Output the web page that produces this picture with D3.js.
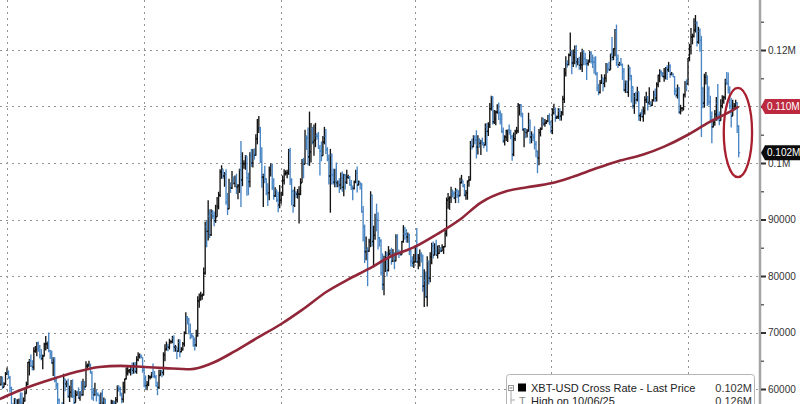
<!DOCTYPE html>
<html>
<head>
<meta charset="utf-8">
<script src="https://cdnjs.cloudflare.com/ajax/libs/d3/7.8.5/d3.min.js"></script>
<style>
	html, body { margin: 0; padding: 0; background: #fff; }
	svg { display: block; font-family: "Liberation Sans", Arial, sans-serif; }
</style>
</head>
<body>
<div id="chart"></div>
<script>
// XBT-USD daily bars, thousands of USD, one value per day from firstDate
var firstDate = "2024-06-26";
var firstOpen = 61.8;

var dailyClose = [
	60.8, 61.6, 60.3, 60.9, 62.7,
	62.8, 62.0, 60.2, 57.0, 56.6, 58.2, 55.8, 56.7, 57.9, 57.7, 57.3, 57.9, 59.2, 60.8, 64.7, 65.0, 64.1, 63.9, 66.7, 67.1, 68.2, 67.6, 65.9, 65.4, 65.8, 67.9, 68.0, 68.3, 66.8, 66.2, 64.6,
	65.4, 61.5, 60.7, 58.1, 54.0, 56.0, 55.0, 61.7, 60.9, 60.9, 58.7, 59.4, 60.6, 58.7, 57.6, 58.9, 59.5, 58.4, 59.5, 59.0, 61.2, 60.4, 64.1, 64.2, 64.2, 62.8, 59.4, 59.0, 59.4, 59.1, 58.9,
	57.3, 59.1, 57.5, 58.0, 56.2, 53.9, 54.8, 54.9, 57.0, 57.6, 57.3, 58.1, 60.5, 60.0, 59.2, 58.2, 60.3, 61.8, 62.9, 63.2, 63.4, 63.6, 63.3, 64.3, 63.1, 65.2, 65.8, 65.9, 65.6, 63.3,
	60.8, 60.6, 60.8, 62.1, 62.1, 62.8, 62.2, 62.1, 60.6, 60.3, 62.4, 63.2, 62.9, 66.0, 67.0, 67.6, 67.4, 68.4, 68.4, 69.0, 67.4, 67.4, 66.7, 68.2, 66.6, 67.0, 68.0, 69.9, 72.7, 72.3, 70.2,
	69.5, 69.4, 68.7, 67.8, 69.4, 75.6, 75.9, 76.5, 76.7, 80.5, 88.7, 87.9, 90.6, 87.3, 91.1, 90.6, 89.8, 90.5, 92.3, 94.3, 98.4, 98.9, 97.7, 98.0, 93.1, 91.9, 95.9, 95.6, 97.5, 96.4,
	97.2, 95.8, 96.0, 98.8, 97.0, 99.9, 99.9, 101.2, 97.4, 96.7, 101.2, 100.0, 101.5, 101.4, 104.3, 106.1, 106.1, 100.2, 97.5, 97.8, 97.2, 95.1, 94.7, 98.7, 99.4, 95.8, 94.2, 95.2, 93.4, 92.6, 93.4,
	94.4, 96.9, 98.1, 98.2, 98.3, 102.1, 96.9, 95.0, 92.5, 94.7, 94.5, 94.5, 94.5, 96.5, 100.5, 99.8, 104.5, 104.4, 101.1, 102.0, 106.1, 103.7, 104.0, 104.8, 104.7, 102.6, 102.1, 101.3, 103.7, 104.7, 102.4,
	100.7, 97.7, 101.4, 97.9, 96.6, 96.6, 96.5, 96.5, 96.1, 97.4, 95.7, 97.9, 96.6, 97.5, 97.6, 96.1, 95.8, 95.5, 96.6, 98.3, 96.1, 96.6, 96.3, 91.4, 88.7, 84.3, 84.7, 84.4,
	86.1, 94.3, 86.1, 87.2, 90.6, 89.9, 86.7, 86.2, 80.6, 78.5, 82.9, 83.7, 81.0, 83.9, 84.3, 82.6, 84.1, 82.7, 86.9, 84.2, 84.0, 83.8, 86.1, 87.5, 87.4, 86.9, 87.2, 84.4, 82.6, 82.3, 82.5,
	85.2, 82.5, 83.1, 83.8, 83.5, 78.2, 79.2, 76.3, 82.6, 79.6, 83.4, 85.3, 83.7, 84.5, 83.7, 84.0, 84.9, 84.4, 85.1, 85.2, 87.5, 93.4, 93.7, 93.9, 94.7, 94.6, 93.8, 95.0, 94.3, 94.2,
	96.5, 96.9, 95.9, 94.3, 94.7, 96.8, 97.0, 103.2, 102.9, 104.6, 104.1, 102.8, 104.1, 103.5, 103.7, 103.5, 103.2, 106.4, 105.6, 106.8, 109.6, 111.7, 107.3, 107.8, 109.0, 109.4, 108.9, 107.8, 105.6, 103.9, 104.6,
	105.7, 105.8, 105.4, 104.7, 101.5, 104.3, 105.6, 105.7, 110.3, 110.3, 108.7, 105.9, 106.0, 105.4, 105.6, 106.8, 104.6, 104.9, 104.6, 103.3, 102.1, 100.9, 105.4, 106.0, 107.3, 106.9, 107.1, 107.4, 108.3, 107.2,
	105.7, 108.9, 109.6, 108.0, 108.2, 109.2, 108.3, 108.9, 111.3, 115.9, 117.5, 117.4, 119.1, 119.8, 117.7, 118.7, 119.4, 117.9, 117.9, 117.3, 117.4, 119.9, 118.5, 118.3, 117.6, 117.9, 119.4, 118.0, 117.9, 117.8, 115.8,
	113.3, 112.5, 114.2, 115.0, 114.1, 115.0, 117.5, 116.7, 116.5, 119.3, 118.7, 120.2, 123.3, 118.4, 117.4, 117.5, 117.4, 116.2, 112.9, 114.3, 112.5, 116.9, 115.4, 113.5, 110.1, 111.8, 111.2, 112.6, 108.4, 108.8, 108.2,
	109.2, 111.2, 111.7, 110.7, 110.7, 110.2, 111.1, 112.0, 111.5, 113.9, 115.5, 116.1, 115.9, 115.3, 115.3, 116.8, 116.5, 117.1, 115.7, 115.7, 115.3, 112.7, 112.0, 113.3, 109.0, 109.7, 109.7, 112.1, 114.4, 114.0,
	118.6, 120.6, 122.3, 122.4, 123.5, 124.8, 121.4, 123.3, 121.7, 113.2, 110.6, 115.2, 115.3, 113.1, 110.8, 108.2, 106.4, 107.2, 108.6, 110.6, 108.5, 107.5, 110.1, 111.0, 111.6, 114.5, 114.1, 113.0, 110.1, 108.3, 109.6,
	110.1, 110.6, 106.5, 101.8
];

var dailyHigh = [
	62.4, 62.3, 62.2, 61.2, 63.0,
	63.8, 63.3, 62.3, 60.4, 57.5, 58.4, 58.2, 58.2, 58.3, 59.4, 59.4, 58.5, 59.8, 61.3, 64.8, 65.3, 66.1, 65.1, 67.4, 67.6, 68.3, 68.4, 67.8, 67.1, 66.1, 68.2, 69.4, 68.3, 70.0, 66.9, 66.8,
	65.6, 65.6, 62.2, 61.1, 58.3, 57.0, 57.7, 62.7, 61.8, 61.5, 61.8, 60.6, 61.6, 61.7, 59.8, 59.8, 59.6, 60.3, 59.6, 61.4, 61.8, 61.4, 64.9, 64.5, 65.0, 64.5, 63.2, 60.2, 61.1, 59.9, 59.4,
	59.0, 59.4, 59.8, 58.5, 58.3, 56.9, 55.0, 55.3, 58.1, 58.0, 57.9, 58.6, 60.6, 60.6, 60.4, 59.2, 61.3, 61.8, 63.8, 64.1, 63.5, 64.0, 64.7, 64.7, 64.8, 65.8, 66.5, 66.3, 66.1, 65.6,
	64.1, 62.4, 61.4, 62.5, 62.4, 63.0, 64.5, 63.2, 62.5, 61.3, 63.4, 63.4, 63.3, 66.5, 67.9, 68.4, 68.0, 68.9, 68.6, 69.4, 69.5, 67.8, 67.4, 68.8, 68.8, 67.4, 68.3, 70.2, 73.6, 72.9, 72.6,
	71.6, 69.9, 69.4, 69.1, 70.5, 76.4, 76.9, 77.2, 76.9, 81.5, 89.6, 89.9, 93.4, 91.8, 91.8, 91.7, 91.4, 92.6, 94.0, 94.9, 98.9, 99.6, 98.7, 98.4, 98.9, 94.7, 97.2, 96.6, 98.6, 97.5,
	97.8, 98.1, 96.3, 99.0, 103.9, 101.9, 100.5, 101.4, 101.2, 98.3, 101.9, 102.5, 102.5, 102.6, 105.1, 107.8, 108.3, 106.4, 102.8, 98.1, 99.5, 97.3, 96.4, 99.4, 99.9, 99.9, 97.3, 95.7, 95.2, 94.9, 96.1,
	94.9, 97.8, 98.9, 98.7, 98.8, 102.5, 102.7, 97.3, 95.3, 95.8, 95.0, 95.4, 95.9, 97.3, 100.7, 100.9, 105.9, 104.9, 106.3, 109.1, 107.1, 106.4, 106.8, 107.1, 105.3, 105.5, 103.2, 103.8, 104.8, 106.4, 106.0,
	102.8, 101.5, 102.5, 101.7, 99.0, 99.0, 100.1, 96.9, 97.3, 98.3, 98.5, 98.1, 98.0, 98.8, 97.9, 97.7, 97.0, 96.0, 96.9, 98.8, 99.4, 96.9, 96.6, 96.4, 92.4, 89.1, 87.0, 85.1,
	86.6, 95.0, 94.4, 88.9, 91.0, 92.8, 91.3, 86.9, 86.5, 84.0, 83.6, 84.4, 84.3, 85.3, 84.7, 85.0, 84.8, 84.1, 87.4, 87.4, 84.7, 84.5, 86.2, 89.0, 88.7, 88.3, 87.7, 87.5, 84.6, 83.5, 83.9,
	85.5, 88.5, 83.9, 84.7, 84.2, 83.8, 81.2, 80.8, 83.5, 82.7, 84.2, 85.9, 86.1, 85.8, 86.4, 85.4, 85.5, 85.1, 85.6, 85.3, 88.5, 93.9, 94.7, 94.1, 95.8, 95.3, 95.0, 95.6, 95.4, 95.2,
	97.4, 97.9, 96.9, 96.3, 95.2, 96.9, 97.7, 103.9, 104.3, 104.9, 104.9, 105.8, 104.9, 104.4, 104.1, 104.5, 103.7, 107.0, 107.1, 107.2, 110.6, 111.9, 111.8, 109.4, 109.3, 110.4, 110.7, 109.3, 108.8, 106.3, 104.9,
	105.9, 105.9, 106.8, 105.9, 105.0, 105.4, 105.9, 106.4, 110.6, 110.4, 110.4, 108.9, 106.2, 106.2, 106.0, 108.9, 107.7, 105.6, 105.2, 106.5, 103.9, 102.2, 106.0, 106.3, 108.1, 108.0, 107.8, 107.6, 108.5, 108.8,
	107.5, 109.7, 110.5, 109.8, 108.4, 109.7, 109.7, 109.2, 111.9, 116.8, 118.9, 118.2, 119.4, 123.1, 119.9, 120.1, 120.8, 120.9, 118.6, 118.8, 119.6, 120.2, 120.0, 119.5, 118.4, 118.3, 119.8, 119.8, 119.2, 118.8, 118.9,
	116.1, 114.0, 114.7, 115.7, 115.1, 115.7, 117.7, 117.6, 117.9, 119.3, 122.3, 120.3, 123.7, 124.5, 119.2, 117.9, 118.6, 117.6, 116.8, 114.6, 114.6, 117.4, 117.0, 115.6, 113.6, 112.4, 112.6, 113.5, 112.6, 108.9, 109.5,
	109.9, 111.8, 112.6, 111.8, 113.4, 110.9, 111.3, 112.8, 113.2, 114.3, 115.6, 116.6, 116.4, 116.1, 116.8, 117.0, 117.3, 117.9, 117.5, 116.1, 115.9, 115.4, 113.3, 113.9, 113.4, 110.3, 109.8, 112.3, 114.5, 114.8,
	118.6, 121.1, 123.9, 122.9, 125.6, 126.2, 125.1, 124.1, 123.8, 122.5, 113.4, 115.8, 116.1, 115.5, 113.6, 111.9, 109.1, 107.4, 109.4, 111.7, 114.0, 109.1, 111.3, 112.0, 111.9, 114.9, 116.1, 116.0, 113.6, 111.5, 111.2,
	110.6, 111.2, 110.8, 106.7
];

var dailyLow = [
	60.7, 60.6, 60.0, 60.3, 60.7,
	62.5, 61.8, 59.4, 56.8, 53.5, 56.1, 55.8, 54.3, 56.3, 57.2, 57.1, 56.6, 57.8, 59.2, 60.7, 62.4, 63.9, 63.3, 63.3, 66.4, 65.8, 66.6, 65.4, 65.1, 63.5, 65.8, 66.8, 67.1, 66.5, 65.3, 64.5,
	62.3, 61.2, 59.9, 57.3, 49.1, 54.0, 54.6, 54.8, 59.6, 60.3, 58.4, 57.7, 58.5, 58.4, 56.2, 57.7, 58.8, 58.3, 57.9, 58.7, 58.8, 59.8, 60.4, 63.6, 63.9, 62.8, 58.1, 57.9, 58.8, 57.8, 58.7,
	57.2, 57.2, 57.4, 55.6, 55.7, 52.6, 53.8, 53.7, 54.6, 56.4, 55.6, 57.3, 57.6, 59.5, 58.7, 57.5, 57.6, 59.2, 61.7, 62.4, 62.8, 62.4, 62.6, 62.7, 62.8, 62.7, 64.9, 65.4, 65.4, 62.9,
	60.3, 59.9, 59.8, 60.5, 61.7, 61.9, 62.1, 61.9, 60.4, 58.9, 60.0, 62.4, 62.1, 62.4, 64.9, 66.8, 66.7, 67.0, 68.0, 68.1, 66.6, 66.6, 65.3, 66.6, 65.6, 66.5, 66.8, 67.5, 69.7, 71.4, 69.7,
	68.8, 69.0, 67.5, 66.8, 67.5, 69.3, 74.4, 75.6, 75.8, 76.5, 80.2, 85.1, 86.3, 86.7, 87.1, 90.1, 88.8, 89.4, 90.6, 91.8, 94.0, 97.2, 97.2, 95.8, 92.6, 90.8, 91.8, 94.7, 95.4, 96.2,
	95.7, 94.5, 93.6, 94.7, 92.2, 95.9, 99.0, 98.8, 94.2, 94.3, 95.7, 99.3, 99.2, 100.6, 101.3, 103.3, 105.3, 100.0, 95.6, 92.2, 96.4, 94.3, 92.4, 93.4, 97.6, 95.2, 93.5, 94.0, 93.1, 91.3, 92.0,
	92.8, 94.2, 96.2, 97.8, 97.3, 97.9, 96.1, 92.5, 91.2, 92.2, 93.8, 93.7, 89.3, 94.3, 96.5, 97.3, 99.9, 102.3, 99.6, 99.5, 100.1, 103.3, 101.3, 102.8, 104.1, 102.5, 97.8, 100.3, 101.3, 103.3, 101.6,
	100.3, 96.2, 91.2, 96.2, 96.2, 95.7, 95.7, 95.7, 94.7, 95.3, 94.9, 94.1, 95.3, 96.3, 97.2, 96.0, 95.2, 93.4, 95.3, 96.4, 94.8, 96.2, 95.3, 91.2, 86.1, 82.3, 82.8, 78.2,
	84.3, 85.1, 85.2, 81.5, 86.4, 87.9, 84.7, 85.2, 80.1, 77.5, 76.6, 80.7, 79.9, 80.8, 83.7, 82.0, 82.5, 81.2, 82.6, 83.7, 83.2, 83.6, 83.8, 85.9, 86.4, 85.9, 85.9, 83.7, 81.7, 81.6, 81.4,
	82.4, 82.3, 81.2, 81.7, 82.4, 77.2, 74.5, 76.2, 74.6, 78.5, 78.9, 82.1, 83.1, 83.7, 83.6, 83.1, 83.9, 84.2, 84.4, 83.9, 85.1, 87.0, 91.9, 91.7, 92.9, 93.9, 93.6, 92.9, 93.8, 92.9,
	94.1, 96.4, 95.7, 94.1, 93.5, 93.5, 95.8, 96.9, 102.4, 102.8, 103.3, 100.8, 101.5, 102.7, 101.4, 103.1, 102.6, 103.1, 102.0, 104.8, 106.2, 109.3, 106.8, 106.9, 106.7, 108.7, 107.6, 106.8, 105.3, 103.6, 103.1,
	103.9, 103.7, 105.0, 104.2, 100.4, 101.2, 103.9, 105.1, 105.3, 108.4, 108.1, 105.7, 102.8, 104.4, 104.5, 105.6, 103.4, 103.5, 103.9, 102.4, 101.0, 98.2, 99.6, 104.7, 105.9, 106.6, 106.4, 106.9, 107.2, 106.7,
	105.3, 105.1, 108.6, 107.3, 107.8, 107.8, 107.5, 107.5, 108.4, 110.6, 115.3, 116.9, 117.3, 118.9, 115.7, 117.0, 117.5, 116.9, 117.3, 116.5, 116.5, 116.1, 117.3, 117.3, 114.7, 117.2, 117.8, 117.6, 116.8, 115.8, 115.5,
	112.7, 112.0, 112.3, 114.0, 112.7, 113.4, 114.3, 115.9, 116.3, 116.5, 118.1, 118.2, 118.9, 117.2, 116.8, 117.2, 117.2, 114.7, 112.7, 112.4, 112.4, 111.7, 114.6, 110.7, 109.6, 108.7, 110.4, 110.9, 107.5, 107.4, 108.1,
	107.3, 108.6, 110.6, 109.3, 110.3, 109.9, 110.1, 110.9, 110.8, 110.9, 113.4, 114.3, 115.3, 115.2, 114.4, 114.8, 114.7, 116.1, 115.1, 115.5, 115.2, 112.0, 111.6, 111.4, 108.7, 108.6, 109.1, 109.3, 111.6, 112.7,
	113.9, 118.0, 119.2, 121.0, 122.2, 123.1, 120.6, 121.1, 119.7, 104.6, 109.7, 109.8, 113.9, 110.1, 110.2, 107.6, 103.5, 106.3, 106.6, 107.5, 107.5, 106.7, 107.5, 109.7, 110.5, 111.2, 113.8, 112.3, 109.5, 106.3, 108.7,
	109.4, 109.8, 105.3, 101.0
];

// 200-day moving average
var maDates = ["2024-06-26", "2024-07-01", "2024-07-15", "2024-08-01", "2024-08-15", "2024-09-01", "2024-09-15",
	"2024-10-01", "2024-10-15", "2024-11-01", "2024-11-15", "2024-12-01", "2024-12-15", "2025-01-01", "2025-01-15",
	"2025-02-01", "2025-02-15", "2025-03-01", "2025-03-15", "2025-04-01", "2025-04-15", "2025-05-01", "2025-05-15",
	"2025-06-01", "2025-06-15", "2025-07-01", "2025-07-15", "2025-08-01", "2025-08-15", "2025-09-01", "2025-09-15",
	"2025-10-01", "2025-10-15", "2025-11-01", "2025-11-04"];
var maValues = [58.2, 58.8, 60.3, 61.8, 62.9, 63.9, 64.1,
	63.9, 63.7, 63.5, 64.5, 66.7, 68.9, 71.5, 74.0,
	77.3, 79.4, 81.3, 83.4, 85.2, 87.3, 90.0, 93.0,
	95.0, 95.7, 96.4, 97.5, 99.1, 100.3, 101.5, 102.9,
	105.0, 107.2, 109.5, 110.0];

var yTicks = [60000, 70000, 80000, 90000, 100000, 110000, 120000];
var yMinorTicks = [55000, 65000, 75000, 85000, 95000, 105000, 115000, 125000];
var quarterLines = ["2024-07-01", "2024-10-01", "2025-01-01", "2025-04-01", "2025-07-01", "2025-10-01"];

// ellipse drawn round the last few bars
var circleDates = ["2025-10-25", "2025-11-13"];
var circlePrices = [97.5, 113.3];

var legendNames = ["XBT-USD Cross Rate - Last Price", "High on 10/06/25"];
var legendValues = ["0.102M", "0.126M"];

var width = 800, height = 404, axisX = 760;

var parseDate = d3.timeParse("%Y-%m-%d");

var svg = d3.select("#chart")
	.append("svg")
	.attr("width", width)
	.attr("height", height);

var x = d3.scaleTime()
	.domain([parseDate("2024-07-01"), parseDate("2025-10-01")])
	.range([7, 688]);

var y = d3.scaleLinear()
	.domain([60000, 120000])
	.range([389, 50]);

svg.append("defs").append("clipPath")
	.attr("id", "plot-clip")
	.append("rect")
	.attr("x", 0).attr("y", 0)
	.attr("width", axisX - 1).attr("height", height);

// dotted grid
svg.append("g").selectAll("line")
	.data(yTicks)
	.enter().append("line")
	.attr("x1", 0).attr("x2", axisX)
	.attr("y1", function(d) { return Math.round(y(d)) + 0.5; })
	.attr("y2", function(d) { return Math.round(y(d)) + 0.5; })
	.style("stroke", "#949494")
	.style("stroke-dasharray", "2,4");

svg.append("g").selectAll("line")
	.data(quarterLines)
	.enter().append("line")
	.attr("x1", function(d) { return Math.round(x(parseDate(d))) + 0.5; })
	.attr("x2", function(d) { return Math.round(x(parseDate(d))) + 0.5; })
	.attr("y1", 0).attr("y2", height)
	.style("stroke", "#949494")
	.style("stroke-dasharray", "2,4");

// build bars, open = previous close
var start = parseDate(firstDate);
var n = Math.min(dailyClose.length, dailyHigh.length, dailyLow.length);
var bars = [];
for (var i = 0; i < n; i++) {
	var open = i === 0 ? firstOpen : dailyClose[i - 1];
	bars.push({
		date: d3.timeDay.offset(start, i),
		open: open * 1000,
		high: Math.max(dailyHigh[i], open, dailyClose[i]) * 1000,
		low: Math.min(dailyLow[i], open, dailyClose[i]) * 1000,
		close: dailyClose[i] * 1000
	});
}

function barColor(d) { return d.close >= d.open ? "#141414" : "#4a86c4"; }

var plot = svg.append("g").attr("clip-path", "url(#plot-clip)");

var barG = plot.selectAll(".bar")
	.data(bars)
	.enter().append("g")
	.attr("class", "bar")
	.style("stroke", barColor)
	.style("stroke-width", 1.35);

barG.append("line")
	.attr("x1", function(d) { return x(d.date); })
	.attr("x2", function(d) { return x(d.date); })
	.attr("y1", function(d) { return y(d.high); })
	.attr("y2", function(d) { return y(d.low); });

barG.append("line")
	.attr("x1", function(d) { return x(d.date) - 1.5; })
	.attr("x2", function(d) { return x(d.date); })
	.attr("y1", function(d) { return y(d.open); })
	.attr("y2", function(d) { return y(d.open); });

barG.append("line")
	.attr("x1", function(d) { return x(d.date); })
	.attr("x2", function(d) { return x(d.date) + 1.5; })
	.attr("y1", function(d) { return y(d.close); })
	.attr("y2", function(d) { return y(d.close); });

// moving average
var maLine = d3.line()
	.x(function(d, i) { return x(parseDate(maDates[i])); })
	.y(function(d) { return y(d * 1000); })
	.curve(d3.curveMonotoneX);

plot.append("path")
	.datum(maValues)
	.attr("d", maLine)
	.style("fill", "none")
	.style("stroke", "#912639")
	.style("stroke-width", 2.6);

// red ellipse
var ex0 = x(parseDate(circleDates[0])), ex1 = x(parseDate(circleDates[1]));
var ey0 = y(circlePrices[1] * 1000), ey1 = y(circlePrices[0] * 1000);
svg.append("ellipse")
	.attr("cx", (ex0 + ex1) / 2)
	.attr("cy", (ey0 + ey1) / 2)
	.attr("rx", (ex1 - ex0) / 2)
	.attr("ry", (ey1 - ey0) / 2)
	.style("fill", "none")
	.style("stroke", "#a8202f")
	.style("stroke-width", 2.3);

// right axis
var flagValue = maValues[maValues.length - 1] * 1000;
var fmt = function(v) {
	// the 0.11M label sits under the red flag, so it is left out
	if (Math.abs(v - flagValue) < 2500) return "";
	return v >= 100000 ? d3.format(".2~f")(v / 1e6) + "M" : String(v);
};

svg.append("line")
	.attr("x1", axisX).attr("x2", axisX)
	.attr("y1", 0).attr("y2", height)
	.style("stroke", "#a5a5a5")
	.style("stroke-width", 2.5);

var minorAxis = svg.append("g")
	.attr("transform", "translate(" + (axisX + 1) + ",0)")
	.call(d3.axisRight(y).tickValues(yMinorTicks).tickSize(3).tickFormat(""));
minorAxis.select(".domain").remove();
minorAxis.selectAll("line").style("stroke", "#666").style("stroke-width", 1.5);

var yAxis = svg.append("g")
	.attr("transform", "translate(" + (axisX + 1) + ",0)")
	.call(d3.axisRight(y).tickValues(yTicks).tickSize(5).tickPadding(2).tickFormat(fmt));
yAxis.select(".domain").remove();
yAxis.selectAll("line").style("stroke", "#333").style("stroke-width", 2);
yAxis.selectAll("text")
	.style("font-family", "'Liberation Sans', Arial, sans-serif")
	.style("font-size", "10px")
	.style("fill", "#333");

// value flags on the axis
function flag(value, fill) {
	var cy = y(value);
	var g = svg.append("g");
	g.append("path")
		.attr("d", "M" + (axisX + 1) + "," + cy + " L" + (axisX + 5) + "," + (cy - 7.5) +
			" L" + width + "," + (cy - 7.5) + " L" + width + "," + (cy + 7.5) +
			" L" + (axisX + 5) + "," + (cy + 7.5) + " Z")
		.style("fill", fill);
	g.append("text")
		.attr("x", axisX + 7)
		.attr("y", cy)
		.attr("dy", "0.35em")
		.style("font-size", "10px")
		.style("fill", "#fff")
		.text(d3.format(".3f")(value / 1e6) + "M");
}
flag(flagValue, "#bd2a40");
flag(bars[bars.length - 1].close, "#0b0b0b");

// legend box (cut by the bottom edge)
var legend = svg.append("g");
legend.append("rect")
	.attr("x", 506.5).attr("y", 374.5)
	.attr("width", 248).attr("height", 44)
	.attr("rx", 3)
	.style("fill", "#fff")
	.style("stroke", "#b5b5b5");

legend.append("rect")
	.attr("x", 508.5).attr("y", 385.5)
	.attr("width", 5).attr("height", 5)
	.style("fill", "#fff").style("stroke", "#999");
legend.append("line")
	.attr("x1", 509.5).attr("x2", 512.5)
	.attr("y1", 388).attr("y2", 388)
	.style("stroke", "#777");
legend.append("rect")
	.attr("x", 518).attr("y", 383.5)
	.attr("width", 8).attr("height", 8)
	.style("fill", "#000");
legend.append("path")
	.attr("d", "M511,391 V404 M511,400 H515")
	.style("stroke", "#aaa").style("fill", "none");
legend.append("text")
	.attr("x", 519).attr("y", 404.5)
	.style("font-size", "11px").style("fill", "#888")
	.text("T");

legend.selectAll(".lname")
	.data(legendNames)
	.enter().append("text")
	.attr("class", "lname")
	.attr("x", 531)
	.attr("y", function(d, i) { return 392 + i * 12.5; })
	.style("font-size", "11px")
	.style("fill", "#222")
	.text(function(d) { return d; });

legend.selectAll(".lval")
	.data(legendValues)
	.enter().append("text")
	.attr("class", "lval")
	.attr("x", 752)
	.attr("y", function(d, i) { return 392 + i * 12.5; })
	.attr("text-anchor", "end")
	.style("font-size", "11px")
	.style("fill", "#333")
	.text(function(d) { return d; });
</script>
</body>
</html>
